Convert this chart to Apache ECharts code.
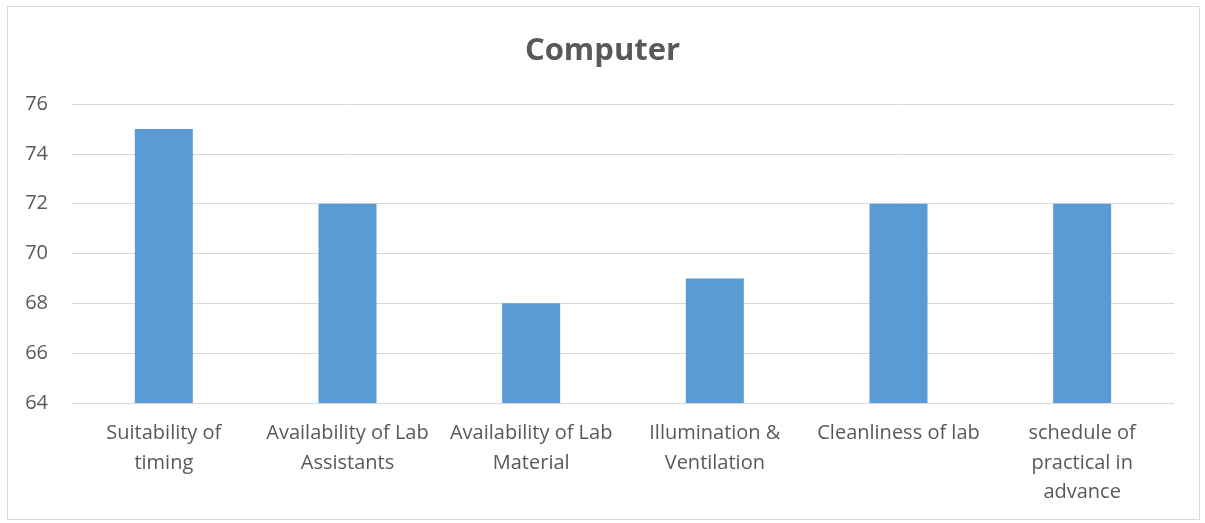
<!DOCTYPE html>
<html>
<head>
<meta charset="utf-8">
<script src="https://cdn.jsdelivr.net/npm/echarts@6/dist/echarts.min.js"></script>
<style>
html,body{margin:0;padding:0;background:#fff;}
#frame{position:absolute;left:7px;top:6px;width:1193px;height:514px;border:1px solid #d9d9d9;box-sizing:border-box;}
#chart{position:absolute;left:0;top:0;width:1205px;height:523px;}
</style>
</head>
<body>
<div id="frame"></div>
<div id="chart"></div>
<script>
const titleText = 'Computer';
const categories = [
  'Suitability of\ntiming',
  'Availability of Lab\nAssistants',
  'Availability of Lab\nMaterial',
  'Illumination &\nVentilation',
  'Cleanliness of lab',
  'schedule of\npractical in\nadvance'
];
const values = [75, 72, 68, 69, 72, 72];
const yMin = 64, yMax = 76, yStep = 2;

const chart = echarts.init(document.getElementById('chart'), null, {renderer: 'canvas'});
chart.setOption({
  animation: false,
  title: {
    text: titleText,
    left: 'center',
    top: 31,
    textStyle: {fontFamily: 'Open Sans', fontSize: 31, fontWeight: 'bold', color: '#595959'}
  },
  grid: {left: 72, right: 31, top: 104, bottom: 120, containLabel: false},
  xAxis: {
    type: 'category',
    data: categories,
    axisLine: {show: true, lineStyle: {color: '#d9d9d9', width: 1}},
    axisTick: {show: false},
    axisLabel: {
      interval: 0,
      margin: 16,
      fontFamily: 'Open Sans',
      fontSize: 20,
      color: '#595959',
      lineHeight: 29.5
    }
  },
  yAxis: {
    type: 'value',
    min: yMin, max: yMax, interval: yStep,
    axisLine: {show: false},
    axisTick: {show: false},
    splitLine: {lineStyle: {color: '#d9d9d9', width: 1}},
    axisLabel: {margin: 24, fontFamily: 'Open Sans', fontSize: 20, color: '#595959'}
  },
  series: [{
    type: 'bar',
    data: values,
    barWidth: 58,
    itemStyle: {color: '#5b9bd5'}
  }]
});
</script>
</body>
</html>
